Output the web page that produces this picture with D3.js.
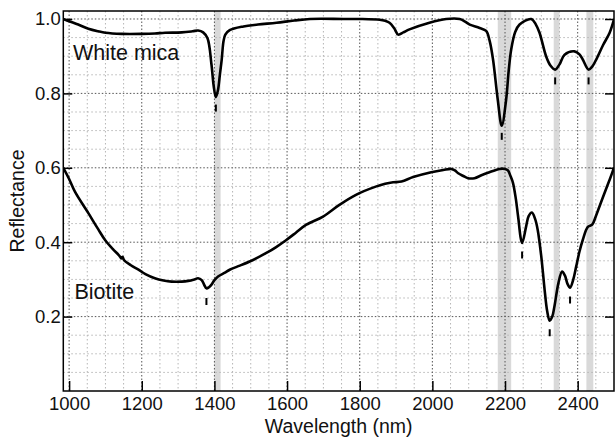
<!DOCTYPE html>
<html lang="en">
<head>
    <meta charset="UTF-8">
    <title>Reflectance spectra</title>
    <script src="https://d3js.org/d3.v7.min.js"></script>
    <style>
        body {
            margin: 0;
            background: #fff;
        }
        text {
            font-family: "Liberation Sans", Arial, sans-serif;
            fill: #111;
        }
    </style>
</head>
<body>
    <svg id="chart" width="615" height="437"></svg>

    <script>
        // White mica spectrum (wavelength nm, reflectance)
        const micaWl = [984, 1000, 1025, 1053, 1080, 1100, 1145, 1200, 1236, 1264, 1310, 1340, 1355, 1369, 1381, 1392, 1398, 1404, 1410, 1415, 1420, 1425, 1430, 1442, 1480, 1520, 1571, 1620, 1663, 1755, 1800, 1855, 1870, 1882, 1895, 1906, 1920, 1937, 1992, 2038, 2075, 2090, 2103, 2130, 2148, 2158, 2167, 2180, 2191, 2203, 2210, 2217, 2228, 2240, 2272, 2285, 2295, 2313, 2325, 2338, 2350, 2364, 2391, 2405, 2414, 2430, 2440, 2451, 2470, 2488, 2500];
        const micaR = [1.0, 0.994, 0.985, 0.974, 0.967, 0.963, 0.960, 0.960, 0.961, 0.963, 0.964, 0.967, 0.969, 0.964, 0.948, 0.877, 0.82, 0.790, 0.81, 0.85, 0.89, 0.94, 0.958, 0.970, 0.980, 0.985, 0.990, 0.996, 1.0, 1.0, 1.0, 0.998, 0.995, 0.99, 0.975, 0.958, 0.964, 0.972, 0.99, 1.0, 1.0, 0.993, 0.985, 0.976, 0.968, 0.94, 0.891, 0.783, 0.713, 0.783, 0.86, 0.918, 0.965, 0.985, 1.0, 0.985, 0.963, 0.9, 0.875, 0.864, 0.878, 0.904, 0.913, 0.905, 0.891, 0.864, 0.872, 0.891, 0.93, 0.963, 0.999];

        // Biotite spectrum
        const bioWl = [984, 1000, 1016, 1053, 1080, 1099, 1120, 1136, 1141, 1144, 1147, 1151, 1170, 1191, 1210, 1236, 1260, 1282, 1310, 1328, 1345, 1355, 1365, 1372, 1378, 1385, 1392, 1400, 1410, 1429, 1442, 1470, 1497, 1543, 1570, 1598, 1625, 1653, 1699, 1745, 1791, 1846, 1870, 1892, 1915, 1947, 1997, 2030, 2052, 2062, 2070, 2085, 2098, 2116, 2135, 2157, 2185, 2200, 2208, 2215, 2222, 2230, 2236, 2247, 2258, 2265, 2274, 2283, 2290, 2300, 2309, 2316, 2323, 2330, 2336, 2347, 2357, 2365, 2372, 2379, 2388, 2396, 2405, 2414, 2428, 2440, 2450, 2460, 2475, 2488, 2500];
        const bioR = [0.60, 0.57, 0.536, 0.478, 0.435, 0.406, 0.382, 0.366, 0.360, 0.356, 0.361, 0.352, 0.338, 0.326, 0.314, 0.303, 0.297, 0.294, 0.294, 0.296, 0.300, 0.303, 0.298, 0.285, 0.276, 0.279, 0.286, 0.298, 0.308, 0.318, 0.326, 0.337, 0.348, 0.371, 0.387, 0.406, 0.426, 0.447, 0.469, 0.501, 0.528, 0.550, 0.557, 0.561, 0.563, 0.575, 0.588, 0.594, 0.597, 0.593, 0.586, 0.578, 0.572, 0.572, 0.580, 0.588, 0.597, 0.597, 0.593, 0.578, 0.559, 0.515, 0.469, 0.398, 0.442, 0.47, 0.480, 0.462, 0.433, 0.36, 0.272, 0.215, 0.189, 0.200, 0.227, 0.29, 0.321, 0.31, 0.288, 0.278, 0.300, 0.335, 0.375, 0.406, 0.441, 0.447, 0.47, 0.496, 0.535, 0.568, 0.600];

        // absorption feature markers: [wavelength, reflectance at top of mark]
        const micaMarks = [[1404, 0.770], [2191, 0.694], [2338, 0.843], [2430, 0.843]];
        const bioMarks = [[1378, 0.250], [2247, 0.375], [2323, 0.166], [2379, 0.254]];

        // shaded wavelength bands
        const bands = [[1400, 1417], [2180, 2217], [2334, 2350], [2424, 2443]];

        const xTicks = [1000, 1200, 1400, 1600, 1800, 2000, 2200, 2400];
        const yTicks = [0.2, 0.4, 0.6, 0.8, 1.0];

        const svg = d3.select("#chart");
        const pLeft = 63.3, pRight = 614, pTop = 11, pBottom = 391;

        const x = d3.scaleLinear().domain([984, 2500]).range([pLeft, pRight]);
        const y = d3.scaleLinear().domain([0, 1.0215]).range([pBottom, pTop]);

        // bands
        svg.selectAll("rect.band")
            .data(bands)
            .join("rect")
            .attr("class", "band")
            .attr("x", d => x(d[0]))
            .attr("y", pTop)
            .attr("width", d => x(d[1]) - x(d[0]))
            .attr("height", pBottom - pTop)
            .attr("fill", "#d9d9d9");

        // minor grid every 50 nm / 0.05
        const minorX = d3.range(1000, 2500, 50).filter(v => v % 200 !== 0);
        const minorY = d3.range(1, 21).map(i => i * 0.05).filter(v => Math.abs(v * 5 - Math.round(v * 5)) > 1e-6);

        const grid = svg.append("g");
        grid.selectAll("line.mx").data(minorX).join("line")
            .attr("x1", d => x(d)).attr("x2", d => x(d))
            .attr("y1", pTop).attr("y2", pBottom)
            .attr("stroke", "#b5b5b5").attr("stroke-width", 1)
            .attr("stroke-dasharray", "1.5,2.5");
        grid.selectAll("line.my").data(minorY).join("line")
            .attr("x1", pLeft).attr("x2", pRight)
            .attr("y1", d => y(d)).attr("y2", d => y(d))
            .attr("stroke", "#b5b5b5").attr("stroke-width", 1)
            .attr("stroke-dasharray", "1.5,2.5");
        grid.selectAll("line.Mx").data(xTicks).join("line")
            .attr("x1", d => x(d)).attr("x2", d => x(d))
            .attr("y1", pTop).attr("y2", pBottom)
            .attr("stroke", "#555").attr("stroke-width", 1)
            .attr("stroke-dasharray", "1.5,2");
        grid.selectAll("line.My").data(yTicks).join("line")
            .attr("x1", pLeft).attr("x2", pRight)
            .attr("y1", d => y(d)).attr("y2", d => y(d))
            .attr("stroke", "#555").attr("stroke-width", 1)
            .attr("stroke-dasharray", "1.5,2");

        // clip curves to plot box
        svg.append("clipPath").attr("id", "clip")
            .append("rect").attr("x", pLeft).attr("y", pTop)
            .attr("width", pRight - pLeft).attr("height", pBottom - pTop);

        const line = d3.line()
            .x(d => x(d[0]))
            .y(d => y(d[1]))
            .curve(d3.curveCatmullRom.alpha(0.5));

        [[micaWl, micaR], [bioWl, bioR]].forEach(([wl, r]) => {
            svg.append("path")
                .datum(wl.map((w, i) => [w, r[i]]))
                .attr("clip-path", "url(#clip)")
                .attr("fill", "none")
                .attr("stroke", "#000")
                .attr("stroke-width", 2.6)
                .attr("stroke-linejoin", "round")
                .attr("d", line);
        });

        // small marks under absorption minima
        svg.selectAll("line.mark")
            .data(micaMarks.concat(bioMarks))
            .join("line")
            .attr("x1", d => x(d[0])).attr("x2", d => x(d[0]))
            .attr("y1", d => y(d[1])).attr("y2", d => y(d[1]) + 7)
            .attr("stroke", "#000").attr("stroke-width", 2);

        // frame
        svg.append("rect")
            .attr("x", pLeft).attr("y", pTop)
            .attr("width", pRight - pLeft).attr("height", pBottom - pTop)
            .attr("fill", "none").attr("stroke", "#000").attr("stroke-width", 1.5);

        // axes with inward ticks
        const xAxis = svg.append("g").attr("transform", `translate(0,${pBottom})`)
            .call(d3.axisBottom(x).tickValues(xTicks).tickSize(-10).tickPadding(0).tickFormat(d3.format("d")));
        const yAxis = svg.append("g").attr("transform", `translate(${pLeft},0)`)
            .call(d3.axisLeft(y).tickValues(yTicks).tickSize(-9).tickFormat(d3.format(".1f")));
        const yAxisR = svg.append("g").attr("transform", `translate(${pRight},0)`)
            .call(d3.axisRight(y).tickValues(yTicks).tickSize(-9).tickFormat(""));

        [xAxis, yAxis, yAxisR].forEach(g => {
            g.select(".domain").remove();
            g.selectAll(".tick line").attr("stroke", "#000").attr("stroke-width", 1.5);
        });
        xAxis.selectAll(".tick text")
            .attr("y", 19)
            .attr("dy", 0)
            .attr("font-size", 18.5);
        yAxis.selectAll(".tick text")
            .attr("x", -2.5)
            .attr("font-size", 18.5);

        // axis titles
        svg.append("text")
            .attr("x", (pLeft + pRight) / 2)
            .attr("y", 433)
            .attr("text-anchor", "middle")
            .attr("font-size", 19.5)
            .text("Wavelength (nm)");

        svg.append("text")
            .attr("transform", `translate(24,${(pTop + pBottom) / 2}) rotate(-90)`)
            .attr("text-anchor", "middle")
            .attr("font-size", 19.5)
            .text("Reflectance");

        // series labels
        svg.append("text")
            .attr("x", 73).attr("y", 59.5)
            .attr("font-size", 21.5)
            .text("White mica");
        svg.append("text")
            .attr("x", 74.5).attr("y", 298.5)
            .attr("font-size", 21.5)
            .text("Biotite");
    </script>
</body>
</html>
